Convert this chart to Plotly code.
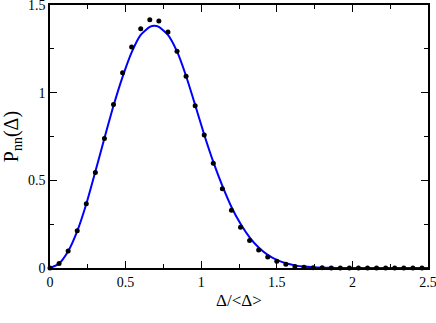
import plotly.graph_objects as go

# measured points (step 0.06 in Δ/<Δ>)
dot_x = [round(0.06 * i, 2) for i in range(42)]
dot_y = [0.0, 0.025, 0.097, 0.213, 0.367, 0.544, 0.739, 0.933, 1.114, 1.261,
         1.365, 1.416, 1.409, 1.346, 1.236, 1.093, 0.926, 0.759, 0.597, 0.452,
         0.329, 0.232, 0.157, 0.103, 0.063, 0.038, 0.021, 0.009, 0.004, 0.002,
         0.001, 0.0, 0.0, 0.0, 0.0, 0.0, 0.0, 0.0, 0.0, 0.0, 0.0, 0.0]

# fitted curve
curve_x = [0, 0.06, 0.12, 0.18, 0.24, 0.30, 0.36, 0.42, 0.48, 0.54, 0.60, 0.66,
           0.69, 0.72, 0.78, 0.84, 0.90, 0.96, 1.02, 1.08, 1.14, 1.20, 1.26,
           1.32, 1.38, 1.44, 1.50, 1.56, 1.62, 1.68, 1.74, 1.80, 1.90, 2.0, 2.5]
curve_y = [0, 0.025, 0.095, 0.21, 0.365, 0.55, 0.74, 0.925, 1.09, 1.23, 1.33,
           1.375, 1.382, 1.375, 1.33, 1.235, 1.095, 0.93, 0.76, 0.605, 0.468,
           0.348, 0.252, 0.175, 0.117, 0.075, 0.046, 0.027, 0.015, 0.008, 0.004,
           0.002, 0.0007, 0.0, 0.0]

serif = "Liberation Serif"

fig = go.Figure()

fig.add_trace(go.Scatter(
    x=curve_x, y=curve_y, mode="lines",
    line=dict(color="#0000ff", width=2, shape="spline", smoothing=0.6),
    cliponaxis=False, showlegend=False,
))

fig.add_trace(go.Scatter(
    x=dot_x, y=dot_y, mode="markers",
    marker=dict(color="black", size=5),
    cliponaxis=False, showlegend=False,
))

axis_common = dict(
    showgrid=False, zeroline=False, automargin=False,
    showline=True, linecolor="black", linewidth=1.5, mirror="allticks",
    ticks="inside", ticklen=7, tickwidth=1, tickcolor="black",
    ticklabeloverflow="allow",
    tickfont=dict(family=serif, size=14, color="black"),
)

fig.update_xaxes(
    range=[0, 2.5], tickvals=[0, 0.5, 1, 1.5, 2, 2.5],
    ticktext=["0", "0.5", "1", "1.5", "2", "2.5"],
    minor=dict(ticks="inside", tickvals=[0.25, 0.75, 1.25, 1.75, 2.25],
               ticklen=4, tickcolor="black"),
    title=dict(text="Δ/<Δ>", font=dict(family=serif, size=17, color="black"),
               standoff=6),
    **axis_common,
)
fig.update_yaxes(
    range=[0, 1.5], tickvals=[0, 0.5, 1, 1.5],
    ticktext=["0", "0.5", "1", "1.5"],
    minor=dict(ticks="inside", tickvals=[0.25, 0.75, 1.25],
               ticklen=4, tickcolor="black"),
    title=dict(text="P<sub>nn</sub>(Δ)", font=dict(family=serif, size=20, color="black"),
               standoff=4),
    **axis_common,
)

fig.update_layout(
    width=436, height=323,
    margin=dict(l=50, r=8, t=5, b=55),
    plot_bgcolor="white", paper_bgcolor="white",
)

# drop the default 8px page margin so the figure sits at the window corner
fig.write_html("out.html",
               config={"displayModeBar": False},
               post_script="document.body.style.margin='0';document.body.style.overflow='hidden';")
